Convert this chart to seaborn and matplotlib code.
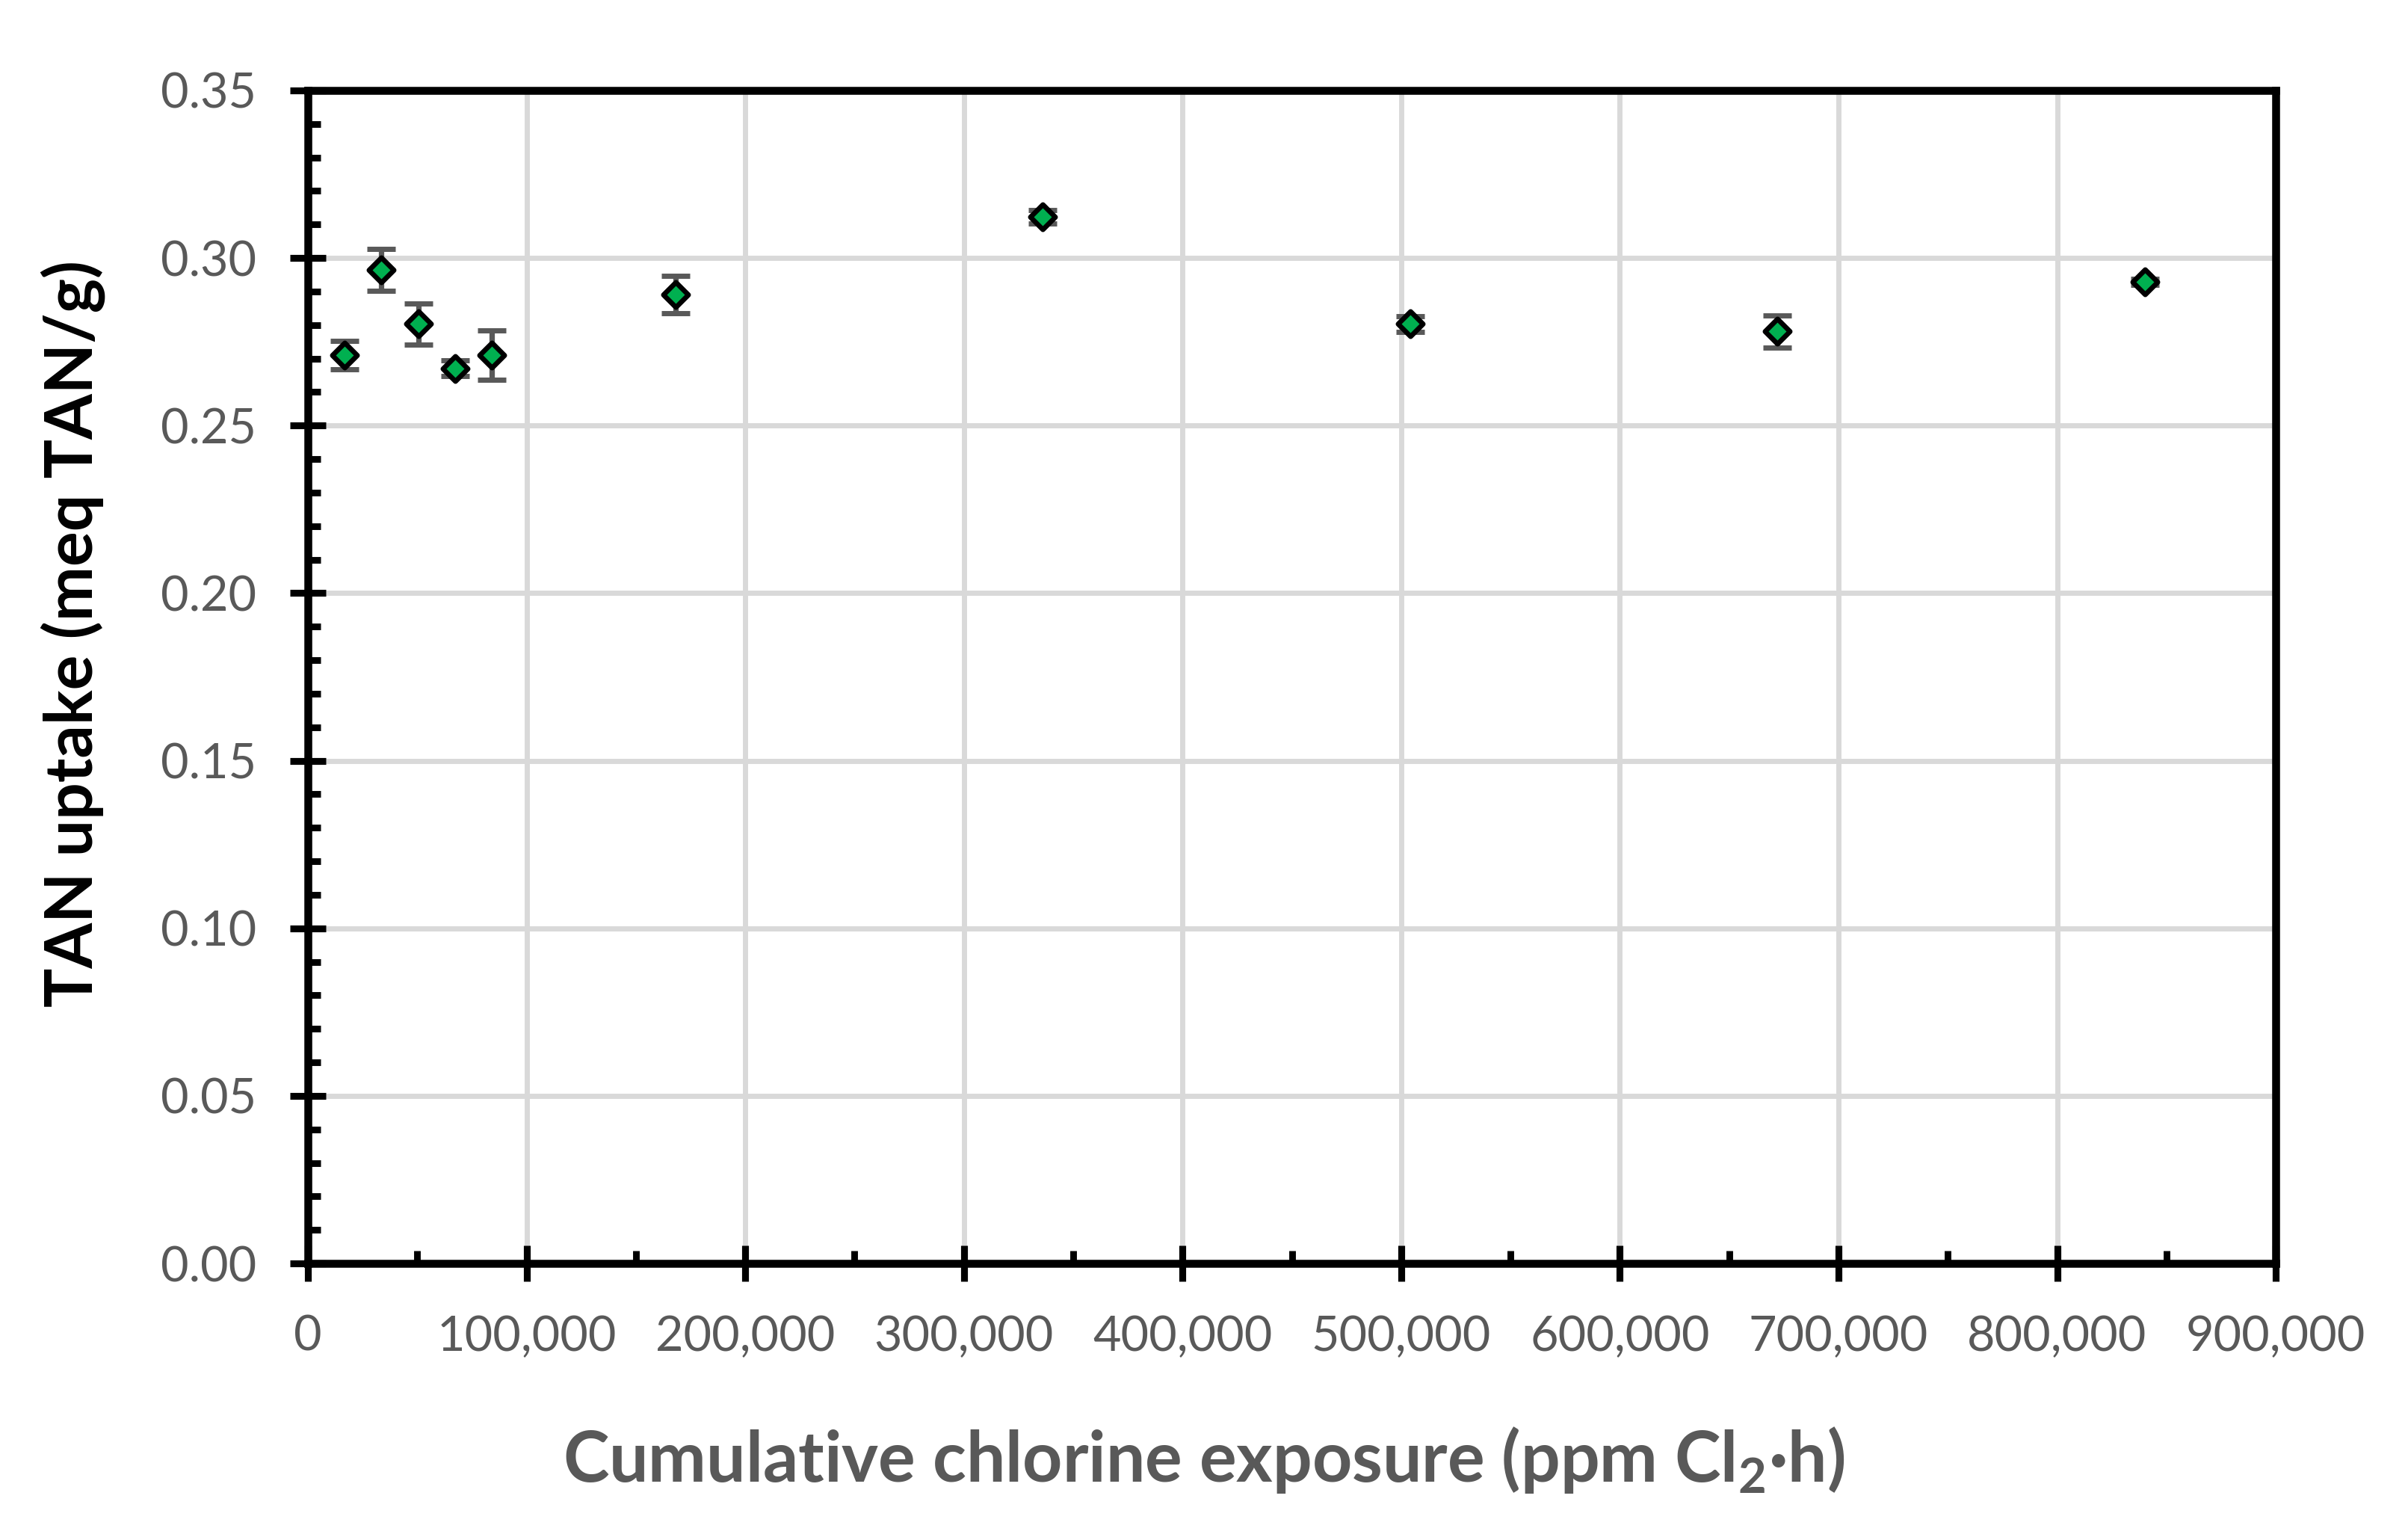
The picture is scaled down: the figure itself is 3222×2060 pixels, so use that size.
import numpy as np
import pandas as pd
import matplotlib
matplotlib.use('Agg')
import matplotlib.pyplot as plt
import seaborn as sns
from matplotlib.ticker import MultipleLocator, FuncFormatter

# --- data ---
exposure = [16800, 33600, 50400, 67200, 84000, 168000, 336000, 504000, 672000, 840000]
tan_uptake = [0.2710, 0.2965, 0.2803, 0.2671, 0.2710, 0.2890, 0.3123, 0.2803, 0.2781, 0.2928]
tan_err = [0.0043, 0.0062, 0.0062, 0.0023, 0.0074, 0.0056, 0.0020, 0.0023, 0.0048, 0.0009]

df = pd.DataFrame({'exposure': exposure, 'uptake': tan_uptake, 'err': tan_err})

sns.set_theme(style='white')
plt.rcParams['font.family'] = ['Lato', 'DejaVu Sans']
plt.rcParams['mathtext.fontset'] = 'custom'
plt.rcParams['mathtext.rm'] = 'Lato'
plt.rcParams['mathtext.bf'] = 'Lato:bold'

GRAY = '#595959'

fig = plt.figure(figsize=(16.11, 10.30), dpi=200)
ax = fig.add_axes([0.1279, 0.1796, 0.9451 - 0.1279, 0.9413 - 0.1796])

# error bars first, markers on top
ax.errorbar(df['exposure'], df['uptake'], yerr=df['err'], fmt='none',
            ecolor=GRAY, elinewidth=2.6, capsize=7.0, capthick=2.5, zorder=3)

sns.scatterplot(data=df, x='exposure', y='uptake', marker='D', s=72,
                color='#00B050', edgecolor='black', linewidth=2.4,
                zorder=4, ax=ax, legend=False)

ax.set_xlim(0, 900000)
ax.set_ylim(0, 0.35)

ax.xaxis.set_major_locator(MultipleLocator(100000))
ax.xaxis.set_minor_locator(MultipleLocator(50000))
ax.yaxis.set_major_locator(MultipleLocator(0.05))
ax.yaxis.set_minor_locator(MultipleLocator(0.01))
ax.xaxis.set_major_formatter(FuncFormatter(lambda v, p: f'{v:,.0f}'))
ax.yaxis.set_major_formatter(FuncFormatter(lambda v, p: f'{v:.2f}'))

ax.grid(True, which='major', color='#D9D9D9', linewidth=2.5, zorder=0)
ax.set_axisbelow(True)

for side in ['left', 'right', 'top', 'bottom']:
    ax.spines[side].set_visible(True)
    ax.spines[side].set_color('black')
    ax.spines[side].set_linewidth(3.8)

ax.tick_params(which='major', direction='inout', length=17.6, width=3.3,
               color='black', labelsize=23.3, labelcolor=GRAY, pad=16)
ax.tick_params(which='minor', direction='in', length=6.2, width=3.2, color='black')
ax.tick_params(top=False, right=False, bottom=True, left=True, which='both')

ax.set_xlabel(r'Cumulative chlorine exposure (ppm Cl$_\mathbf{2}$·h)',
              fontsize=33.5, fontweight='bold', color=GRAY, va='baseline')
ax.xaxis.set_label_coords(0.4554, -0.186)
ax.set_ylabel('TAN uptake (meq TAN/g)', fontsize=31.5, fontweight='bold',
              color='black', va='center')
ax.yaxis.set_label_coords(-0.1193, 0.537)

fig.savefig('out.png', dpi=200, facecolor='white')
